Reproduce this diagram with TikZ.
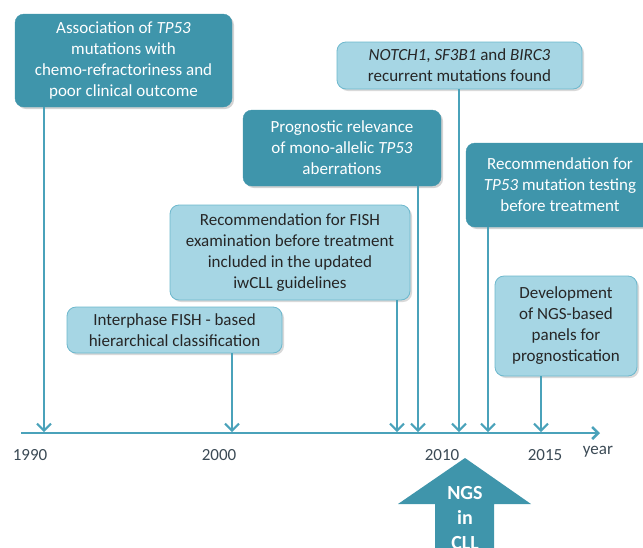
\documentclass[tikz,border=0pt]{standalone}
\usepackage{fontspec}
\setmainfont{Carlito}
\usetikzlibrary{arrows.meta,shadows}

\definecolor{darkteal}{HTML}{3F95AB}
\definecolor{lightteal}{HTML}{A6D6E4}
\definecolor{edgeteal}{HTML}{6DB8CD}
\definecolor{axisteal}{HTML}{4AA2BA}
\definecolor{labelgray}{HTML}{3B4A55}

\begin{document}
\begin{tikzpicture}[x=1pt, y=-1pt,
    boxtext/.style={align=center, inner sep=2pt, font=\fontsize{17}{21}\selectfont},
    darkbox/.style={boxtext, draw=darkteal, fill=darkteal, text=white, rounded corners=9pt,
        drop shadow={opacity=0.35, shadow xshift=2pt, shadow yshift=-2pt}},
    lightbox/.style={boxtext, draw=edgeteal, line width=0.8pt, fill=lightteal, text=black!85,
        rounded corners=9pt, drop shadow={opacity=0.3, shadow xshift=2pt, shadow yshift=-2pt}},
    event/.style={axisteal, line width=2pt, -{Straight Barb[length=7pt,width=14pt]}},
    yearlabel/.style={text=labelgray, font=\fontsize{17}{20}\selectfont}]
    \useasboundingbox (0,0) rectangle (643,547);

    % Events, dark boxes
    \node[darkbox, minimum width=217pt, minimum height=93pt] (assoc) at (123.5,60.5)
        {Association of \textit{TP53}\\mutations with\\chemo-refractoriness and\\poor clinical outcome};
    \node[darkbox, minimum width=198pt, minimum height=76pt] (prognostic) at (342,148)
        {Prognostic relevance\\of mono-allelic \textit{TP53}\\aberrations};
    \node[darkbox, minimum width=188pt, minimum height=84pt] (tp53rec) at (560,185)
        {Recommendation for\\\textit{TP53} mutation testing\\before treatment};

    % Events, light boxes
    \node[lightbox, minimum width=245pt, minimum height=47pt] (notch) at (459.5,65.5)
        {\textit{NOTCH1}, \textit{SF3B1} and \textit{BIRC3}\\recurrent mutations found};
    \node[lightbox, minimum width=240pt, minimum height=95pt] (fishrec) at (290,252.5)
        {Recommendation for FISH\\examination before treatment\\included in the updated\\iwCLL guidelines};
    \node[lightbox, minimum width=215pt, minimum height=46pt] (interphase) at (174.5,330)
        {Interphase FISH - based\\hierarchical classification};
    \node[lightbox, minimum width=142pt, minimum height=100pt] (ngspanels) at (566,326)
        {Development\\of NGS-based\\panels for\\prognostication};

    % Axis
    \coordinate (axstart) at (21,433);
    \coordinate (axend) at (600,433);
    \draw[axisteal, line width=2.5pt, -{Straight Barb[length=6pt,width=12pt]}] (axstart) -- (axend);

    % Year labels
    \foreach \yr/\xx in {1990/30, 2000/219, 2010/442, 2015/545} {
        \node[yearlabel] (lab\yr) at (\xx,455) {\yr};
    }
    \node[yearlabel] (labyear) at (598,452) {year};

    % Arrows from the events down to the axis
    \foreach \evt/\xx in {assoc/44, interphase/232, fishrec/397, prognostic/418, notch/459, tp53rec/488, ngspanels/541} {
        \coordinate (hit-\evt) at (\xx,432);
        \draw[event] (\evt.south -| hit-\evt) -- (hit-\evt);
    }

    % NGS in CLL
    \fill[darkteal] (465,458) -- (531,504) -- (494,504) -- (494,560) -- (435,560) -- (435,504) -- (398,504) -- cycle;
    \node[text=white, align=center, font=\bfseries\fontsize{20}{25}\selectfont] (ngs) at (465,518) {NGS\\in\\CLL};
\end{tikzpicture}
\end{document}
